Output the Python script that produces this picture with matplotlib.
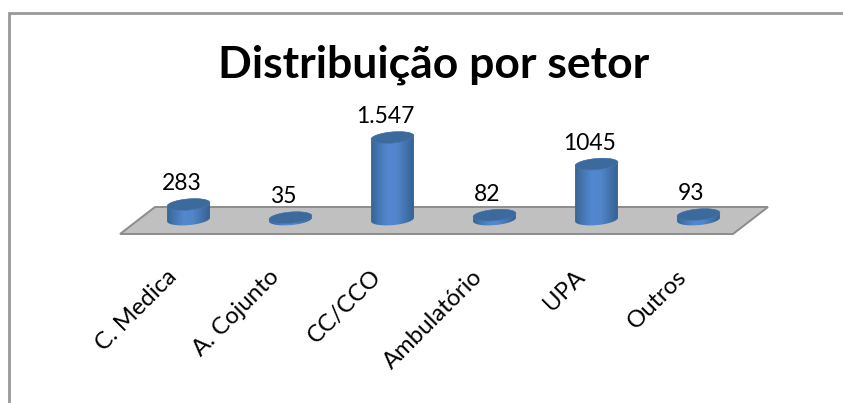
import numpy as np
import matplotlib
matplotlib.use("Agg")
import matplotlib.pyplot as plt
from matplotlib.colors import LinearSegmentedColormap
from matplotlib.patches import Polygon

categories = ["C. Medica", "A. Cojunto", "CC/CCO", "Ambulatório", "UPA", "Outros"]
values = [283, 35, 1547, 82, 1045, 93]
value_labels = ["283", "35", "1.547", "82", "1045", "93"]
title = "Distribuição por setor"

W, H = 843, 403
X0, STEP = 188.5, 102.0   # pixel of first category, pixels per category
Y0, PX_PER_UNIT = 219.5, 0.053   # pixel of value 0, pixels per unit
RX, RY, TILT = 21.5, 5.6, np.radians(5)

plt.rcParams["font.family"] = ["Lato", "DejaVu Sans"]


def to_data(px, py):
    return (np.asarray(px) - X0) / STEP, (Y0 - np.asarray(py)) / PX_PER_UNIT


def ellipse_px(cx, cy, t):
    ex = RX * np.cos(t)
    ey = RY * np.sin(t)
    return cx + ex * np.cos(TILT) + ey * np.sin(TILT), cy - ex * np.sin(TILT) + ey * np.cos(TILT)


def draw_cylinder(ax, i, v, cmap):
    cx = X0 + i * STEP
    base = Y0
    top = Y0 - v * PX_PER_UNIT

    # side: lower half of base ellipse, then back along the top ellipse
    t = np.linspace(0, np.pi, 60)
    bx, by = ellipse_px(cx, base, t)
    tx, ty = ellipse_px(cx, top, t + np.pi)
    xs, ys = to_data(np.r_[bx, tx], np.r_[by, ty])
    side = Polygon(np.c_[xs, ys], closed=True, fc="none", ec="none", zorder=3)
    ax.add_patch(side)

    ex0, _ = to_data(cx - RX - 1, 0)
    ex1, _ = to_data(cx + RX + 1, 0)
    _, ey0 = to_data(0, base + RY + 3)
    _, ey1 = to_data(0, top - RY - 3)
    grad = np.linspace(0, 1, 128).reshape(1, -1)
    im = ax.imshow(grad, extent=(ex0, ex1, ey0, ey1), cmap=cmap, aspect="auto", zorder=3)
    im.set_clip_path(side)

    # top cap
    t = np.linspace(0, 2 * np.pi, 90)
    cap_x, cap_y = ellipse_px(cx, top, t)
    xs, ys = to_data(cap_x, cap_y)
    ax.fill(xs, ys, fc="#3d6a9d", ec="#4a78b0", lw=0.4, zorder=4)


def main():
    fig = plt.figure(figsize=(W / 100, H / 100), dpi=100)
    ax = fig.add_axes([0, 0, 1, 1])
    ax.axis("off")

    # floor
    fx, fy = to_data([120, 733, 768, 155], [234, 234, 207, 207])
    ax.add_patch(Polygon(np.c_[fx, fy], closed=True, fc="#c0c0c0", ec="#8c8c8c", lw=1.4, zorder=1))

    # chart frame (only top and left are visible in the crop)
    fx, fy = to_data([843, 8.5, 8.5], [12.5, 12.5, 403])
    ax.plot(fx, fy, color="#999999", lw=2, zorder=1, solid_joinstyle="miter")

    cmap = LinearSegmentedColormap.from_list(
        "cyl", ["#34628f", "#4677b4", "#5388d0", "#5186cb", "#4373ae", "#335f8e"]
    )
    for i, v in enumerate(values):
        draw_cylinder(ax, i, v, cmap)
        ax.annotate(value_labels[i], (i, v), xytext=(-7 * 0.72, 21 * 0.72),
                    textcoords="offset points", ha="center", va="center",
                    fontsize=16.5, color="black", zorder=5)
        ax.annotate(categories[i], (i, 0), xytext=(-15 * 0.72, -54 * 0.72),
                    textcoords="offset points", ha="right", va="center",
                    rotation=45, rotation_mode="anchor", fontsize=17.2, color="black", zorder=5)

    tx, ty = to_data(434, 65)
    ax.text(tx, ty, title, ha="center", va="center", fontsize=32, fontweight="bold", color="black")

    ax.set_xlim(*to_data([0, W], [0, 0])[0])
    ax.set_ylim(to_data(0, H)[1], to_data(0, 0)[1])
    fig.savefig("out.png", dpi=100, facecolor="white")


if __name__ == "__main__":
    main()
